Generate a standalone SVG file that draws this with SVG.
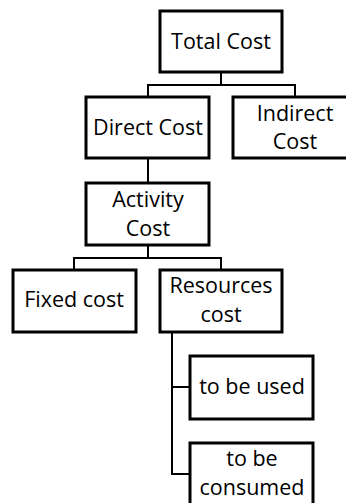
<svg xmlns="http://www.w3.org/2000/svg" width="346" height="503" viewBox="0 0 346 503">
  <style>
    .box { fill: #ffffff; stroke: #000000; stroke-width: 3; }
    .link { fill: none; stroke: #000000; stroke-width: 2; }
    text { font-family: "Open Sans", "Noto Sans", sans-serif; font-size: 21.5px; fill: #000000; text-anchor: middle; }
  </style>
  <rect width="346" height="503" fill="#ffffff"/>
  <g id="connectors">
    <path class="link" d="M221 72 V85 M148 97 V85 H295 V97"/>
    <path class="link" d="M148 158 V183"/>
    <path class="link" d="M148 245 V258 M74 270 V258 H221 V270"/>
    <path class="link" d="M172 332 V474 H190 M172 387 H190"/>
  </g>
  <g id="total-cost">
    <rect class="box" x="160" y="11" width="122" height="61"/>
    <text x="221" y="49">Total Cost</text>
  </g>
  <g id="direct-cost">
    <rect class="box" x="86" y="97" width="123" height="61"/>
    <text x="148" y="135">Direct Cost</text>
  </g>
  <g id="indirect-cost">
    <rect class="box" x="233" y="97" width="116" height="61"/>
    <text x="295" y="121">Indirect</text>
    <text x="295" y="149">Cost</text>
  </g>
  <g id="activity-cost">
    <rect class="box" x="86" y="183" width="123" height="62"/>
    <text x="148" y="207">Activity</text>
    <text x="148" y="236">Cost</text>
  </g>
  <g id="fixed-cost">
    <rect class="box" x="13" y="270" width="123" height="62"/>
    <text x="74" y="307">Fixed cost</text>
  </g>
  <g id="resources-cost">
    <rect class="box" x="160" y="270" width="122" height="62"/>
    <text x="221" y="293">Resources</text>
    <text x="221" y="322">cost</text>
  </g>
  <g id="to-be-used">
    <rect class="box" x="190" y="356" width="123" height="63"/>
    <text x="252" y="394">to be used</text>
  </g>
  <g id="to-be-consumed">
    <rect class="box" x="190" y="443" width="123" height="70"/>
    <text x="252" y="466">to be</text>
    <text x="252" y="495">consumed</text>
  </g>
</svg>
